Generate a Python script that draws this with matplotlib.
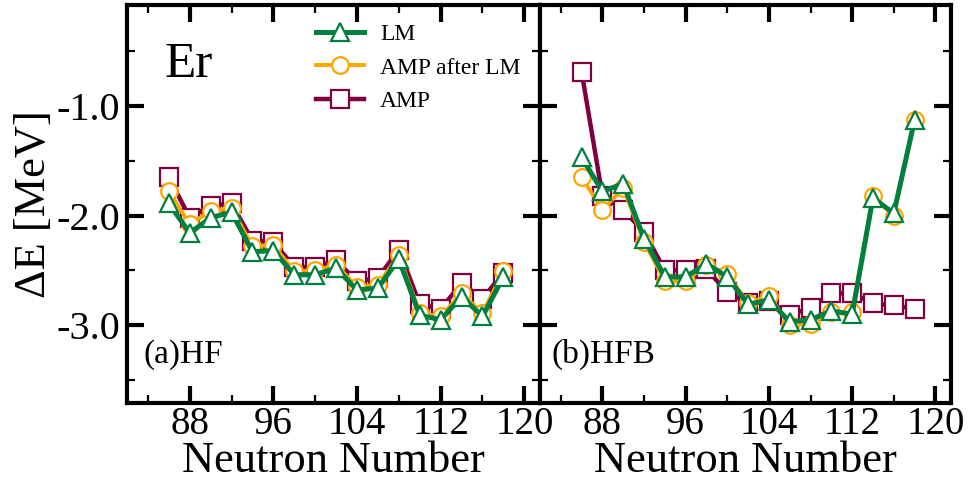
import matplotlib
matplotlib.use("Agg")
import matplotlib.pyplot as plt
from matplotlib.ticker import MultipleLocator

plt.rcParams['font.family'] = ['Liberation Serif', 'DejaVu Serif']

N = [86, 88, 90, 92, 94, 96, 98, 100, 102, 104, 106, 108, 110, 112, 114, 116, 118]

# (a) HF
hf_lm = [-1.89, -2.16, -2.02, -1.97, -2.33, -2.32, -2.54, -2.54, -2.48, -2.68,
         -2.66, -2.40, -2.91, -2.95, -2.74, -2.92, -2.56]
hf_amp_lm = [-1.78, -2.08, -1.96, -1.93, -2.28, -2.27, -2.51, -2.50, -2.45, -2.65,
             -2.63, -2.36, -2.89, -2.92, -2.71, -2.89, -2.51]
hf_amp = [-1.65, -2.02, -1.91, -1.89, -2.23, -2.24, -2.47, -2.47, -2.41, -2.60,
          -2.57, -2.31, -2.81, -2.85, -2.62, -2.76, -2.52]

# (b) HFB
hfb_lm = [-1.47, -1.78, -1.71, -2.21, -2.56, -2.56, -2.44, -2.56, -2.81, -2.77,
          -2.97, -2.95, -2.87, -2.90, -1.84, -1.98, -1.13]
hfb_amp_lm = [-1.65, -1.95, -1.75, -2.24, -2.60, -2.60, -2.45, -2.53, -2.80, -2.73,
              -3.00, -2.99, -2.88, -2.88, -1.82, -2.00, -1.13]
hfb_amp = [-0.69, -1.82, -1.95, -2.15, -2.50, -2.50, -2.49, -2.70, -2.80, -2.78,
           -2.91, -2.84, -2.71, -2.71, -2.80, -2.82, -2.85]

green = '#007f3f'
orange = '#ffa500'
maroon = '#7f0040'

fig = plt.figure(figsize=(9.69, 4.82), dpi=100)
x0, xm, x1 = 127 / 969, 540 / 969, 951 / 969
b, t = 1 - 403 / 482, 1 - 5 / 482
ax1 = fig.add_axes([x0, b, xm - x0, t - b])
ax2 = fig.add_axes([xm, b, x1 - xm, t - b])

panels = [(ax1, hf_lm, hf_amp_lm, hf_amp, '(a)HF'),
          (ax2, hfb_lm, hfb_amp_lm, hfb_amp, '(b)HFB')]

for ax, lm, amplm, amp, tag in panels:
    ax.plot(N, amp, '-s', color=maroon, lw=3.2, ms=13, mfc='white',
            mec=maroon, mew=1.6, label='AMP')
    ax.plot(N, amplm, '-o', color=orange, lw=2.8, ms=12, mfc='white',
            mec=orange, mew=1.6, label='AMP after LM')
    ax.plot(N, lm, '-^', color=green, lw=3.6, ms=13, mfc='white',
            mec=green, mew=1.6, label='LM')
    ax.set_xlim(82, 121.5)
    ax.set_ylim(-3.71, -0.08)
    ax.xaxis.set_major_locator(MultipleLocator(8))
    ax.xaxis.set_minor_locator(MultipleLocator(4))
    ax.yaxis.set_major_locator(MultipleLocator(1))
    ax.yaxis.set_minor_locator(MultipleLocator(0.5))
    ax.tick_params(which='both', direction='in', top=True, right=True,
                   labelsize=28)
    ax.tick_params(axis='x', pad=2)
    ax.tick_params(axis='y', pad=5, labelsize=29)
    ax.tick_params(which='major', length=12, width=3)
    ax.tick_params(which='minor', length=6, width=1.6)
    for s in ax.spines.values():
        s.set_linewidth(3)
    ax.set_xlabel('Neutron Number', fontsize=32, labelpad=-1)
    ax.text(0.04 if ax is ax1 else 0.029, 0.10, tag, transform=ax.transAxes,
            fontsize=24, ha='left', va='baseline')

ax1.set_yticks([-1, -2, -3])
ax1.set_yticklabels(['-1.0', '-2.0', '-3.0'])
ax2.tick_params(labelleft=False)
ax1.set_ylabel('ΔE [MeV]', fontsize=32, labelpad=2)
ax1.text(0.092, 0.819, 'Er', transform=ax1.transAxes, fontsize=37,
         ha='left', va='baseline')

h, l = ax1.get_legend_handles_labels()
ax1.legend(h[::-1], l[::-1], loc='upper left', bbox_to_anchor=(0.413, 1.0),
           frameon=False, fontsize=17, handlelength=2.0, handletextpad=0.7,
           labelspacing=0.5, borderpad=0.3)

fig.savefig('out.png', dpi=100)
